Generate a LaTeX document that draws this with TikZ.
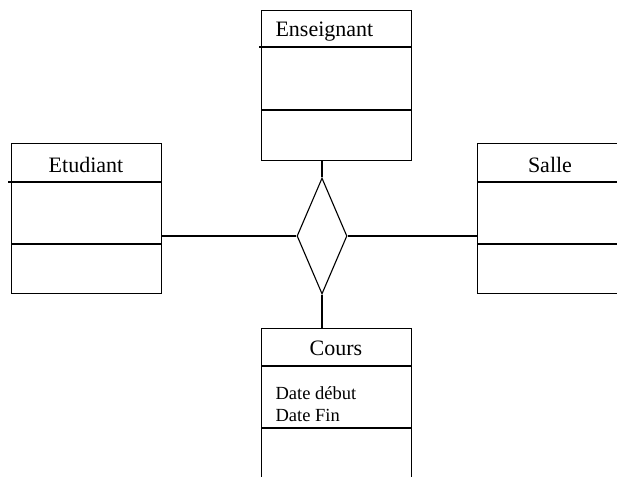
\documentclass[tikz,border=0pt]{standalone}
\usepackage{fontspec}
\setmainfont{Liberation Serif}
\usetikzlibrary{positioning,shapes.geometric}
\tikzset{class box/.style={draw,anchor=north west,minimum width=150pt,minimum height=150pt,inner sep=0pt},
  class name/.style={font=\fontsize{22}{26}\selectfont,inner sep=0pt,anchor=base},
  attr text/.style={font=\fontsize{18.5}{22}\selectfont,inner sep=0pt,anchor=base west},
  relation/.style={draw,diamond,minimum width=50pt,minimum height=116pt,inner sep=0pt}}

\begin{document}
\begin{tikzpicture}[x=1pt,y=-1pt,line width=1.1pt]
            \clip (0,0) rectangle (617,476);
            \useasboundingbox (0,0) rectangle (617,476);
            % classes
            \node[class box] (ens) at (261,10) {};
            \node[class box] (etu) at (11,143) {};
            \node[class box] (sal) at (477,143) {};
            \node[class box, minimum height=200pt] (cou) at (261,328) {};
            \node[class name, anchor=base west] (ensname) at (275,37) {Enseignant};
            \node[class name] (etuname) at (86,172) {Etudiant};
            \node[class name] (salname) at (550,172) {Salle};
            \node[class name] (couname) at (336,355) {Cours};
            \node[attr text] (coudeb) at (275,399) {Date début};
            \node[attr text] (coufin) at (275,421) {Date Fin};

            % compartments
            \draw (259,47) -- (411,47) (261,110) -- (411,110);
            \draw (8,182) -- (161,182) (11,244) -- (161,244);
            \draw (477,182) -- (617,182) (477,244) -- (617,244);
            \draw (261,366) -- (411,366) (261,428) -- (411,428);

            % relation
            \node[relation] (rel) at (322,236) {};

            \path[draw]
            (rel.north) edge (rel.north |- ens.south)
            (rel.south) edge (rel.south |- cou.north)
            (rel.west) edge (rel.west -| etu.east)
            (rel.east) edge (rel.east -| sal.west);
        \end{tikzpicture}
\end{document}
